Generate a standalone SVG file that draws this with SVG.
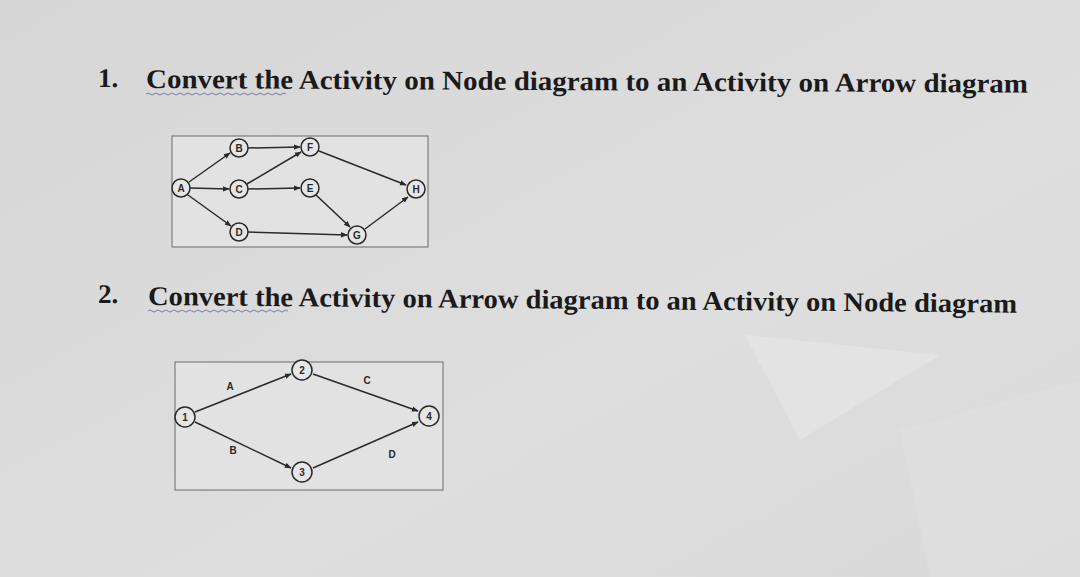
<svg xmlns="http://www.w3.org/2000/svg" width="1080" height="577" viewBox="0 0 1080 577">
<defs>
<linearGradient id="bg" x1="0" y1="0" x2="1" y2="1">
<stop offset="0" stop-color="#d6d6d6"/>
<stop offset="0.6" stop-color="#dedede"/>
<stop offset="1" stop-color="#d9d9d9"/>
</linearGradient>
<marker id="ah" viewBox="0 0 10 10" refX="9" refY="5" markerWidth="4.5" markerHeight="4.5" orient="auto">
<path d="M0,1 L10,5 L0,9 z" fill="#2a2a2a"/>
</marker>
<style>
.title{font-family:"Liberation Serif",serif;font-weight:bold;font-size:27px;fill:#1a1a1a}
.box{fill:#e2e2e2;stroke:#6a6a6a;stroke-width:1}
.n{fill:#e6e6e6;stroke:#2a2a2a;stroke-width:1.5}
.lbl{font-family:"Liberation Sans",Arial,sans-serif;font-weight:bold;font-size:10px;fill:#2a2a2a;text-anchor:middle;dominant-baseline:central}
.e{stroke:#2a2a2a;stroke-width:1.5;fill:none;marker-end:url(#ah)}
.el{font-family:"Liberation Sans",Arial,sans-serif;font-weight:bold;font-size:10px;fill:#2a2a2a;text-anchor:middle}
.sq{fill:none;stroke:#7a7aa8;stroke-width:1}
</style>
</defs>
<rect width="1080" height="577" fill="url(#bg)"/>
<polygon points="745,335 940,355 800,440" fill="#e8e8e8" opacity="0.6"/>
<polygon points="900,430 1080,380 1080,577 930,577" fill="#e1e1e1" opacity="0.5"/>

<g id="title1">
<text class="title" x="98" y="87" transform="rotate(0.3 98 87)">1.</text>
<text class="title" x="146" y="88" textLength="882" lengthAdjust="spacingAndGlyphs" transform="rotate(0.3 146 88)">Convert  the Activity on Node diagram to an Activity on  Arrow diagram</text>
<path class="sq" d="M146,94 q2,-2 4,0 t4,0 t4,0 t4,0 t4,0 t4,0 t4,0 t4,0 t4,0 t4,0 t4,0 t4,0 t4,0 t4,0 t4,0 t4,0 t4,0 t4,0 t4,0 t4,0 t4,0 t4,0 t4,0 t4,0 t4,0 t4,0 t4,0 t4,0 t4,0 t4,0 t4,0 t4,0 t4,0 t4,0 t4,0"/>
</g>

<g id="title2">
<text class="title" x="98" y="303" transform="rotate(0.5 98 303)">2.</text>
<text class="title" x="148" y="305" textLength="869" lengthAdjust="spacingAndGlyphs" transform="rotate(0.5 148 305)">Convert  the Activity on  Arrow diagram to an Activity on Node diagram</text>
<path class="sq" d="M148,311 q2,-2 4,0 t4,0 t4,0 t4,0 t4,0 t4,0 t4,0 t4,0 t4,0 t4,0 t4,0 t4,0 t4,0 t4,0 t4,0 t4,0 t4,0 t4,0 t4,0 t4,0 t4,0 t4,0 t4,0 t4,0 t4,0 t4,0 t4,0 t4,0 t4,0 t4,0 t4,0 t4,0 t4,0 t4,0 t4,0"/>
</g>

<rect class="box" x="172" y="136" width="256" height="111"/>
<rect class="box" x="175" y="362" width="268" height="128"/>

<g id="connectors">
<line class="e" x1="189" y1="182" x2="230" y2="153"/>
<line class="e" x1="190" y1="188" x2="229" y2="189"/>
<line class="e" x1="188" y1="195" x2="231" y2="226"/>
<line class="e" x1="248" y1="148" x2="300" y2="147"/>
<line class="e" x1="247" y1="184" x2="301" y2="152"/>
<line class="e" x1="248" y1="189" x2="300" y2="188"/>
<line class="e" x1="248" y1="232" x2="347" y2="235"/>
<line class="e" x1="319" y1="151" x2="406" y2="185"/>
<line class="e" x1="316" y1="195" x2="350" y2="227"/>
<line class="e" x1="365" y1="229" x2="408" y2="197"/>
<line class="e" x1="195" y1="412" x2="291" y2="374"/>
<line class="e" x1="195" y1="422" x2="291" y2="468"/>
<line class="e" x1="313" y1="374" x2="418" y2="411"/>
<line class="e" x1="313" y1="468" x2="418" y2="422"/>
<text class="el" x="230" y="390">A</text>
<text class="el" x="367" y="384">C</text>
<text class="el" x="233" y="454">B</text>
<text class="el" x="392" y="458">D</text>
</g>

<g id="nA"><circle class="n" cx="181" cy="188" r="9"/><text class="lbl" x="181" y="188">A</text></g>
<g id="nB"><circle class="n" cx="239" cy="148" r="9"/><text class="lbl" x="239" y="148">B</text></g>
<g id="nC"><circle class="n" cx="239" cy="189" r="9"/><text class="lbl" x="239" y="189">C</text></g>
<g id="nD"><circle class="n" cx="239" cy="232" r="9"/><text class="lbl" x="239" y="232">D</text></g>
<g id="nF"><circle class="n" cx="310" cy="147" r="9"/><text class="lbl" x="310" y="147">F</text></g>
<g id="nE"><circle class="n" cx="310" cy="188" r="9"/><text class="lbl" x="310" y="188">E</text></g>
<g id="nG"><circle class="n" cx="357" cy="235" r="9"/><text class="lbl" x="357" y="235">G</text></g>
<g id="nH"><circle class="n" cx="416" cy="189" r="9"/><text class="lbl" x="416" y="189">H</text></g>

<g id="n1"><circle class="n" cx="185" cy="417" r="10"/><text class="lbl" x="185" y="417">1</text></g>
<g id="n2"><circle class="n" cx="302" cy="370" r="10"/><text class="lbl" x="302" y="370">2</text></g>
<g id="n3"><circle class="n" cx="302" cy="472" r="10"/><text class="lbl" x="302" y="472">3</text></g>
<g id="n4"><circle class="n" cx="429" cy="416" r="10"/><text class="lbl" x="429" y="416">4</text></g>
</svg>
